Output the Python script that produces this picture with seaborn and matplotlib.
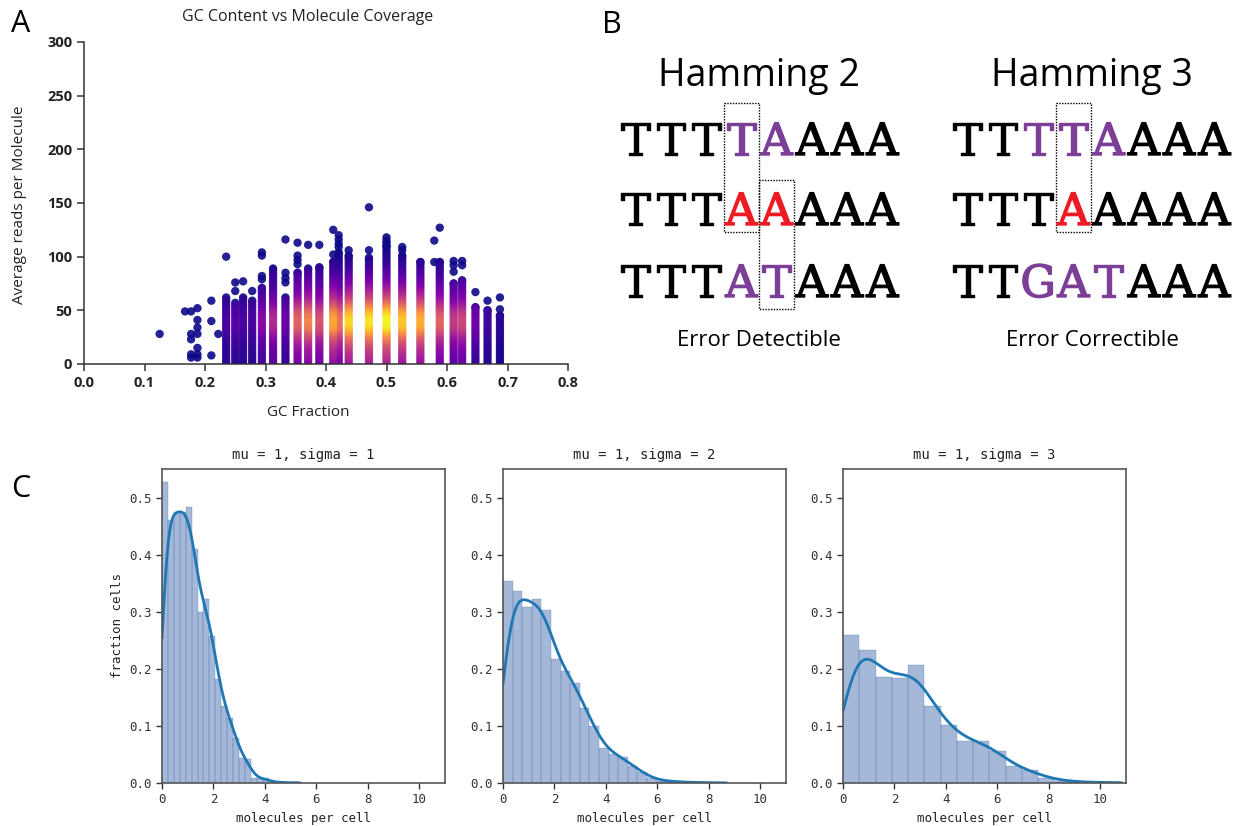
import numpy as np
import pandas as pd
import matplotlib
matplotlib.use('Agg')
import matplotlib.pyplot as plt
import matplotlib.patheffects as pe
from matplotlib.patches import Rectangle
import seaborn as sns

# ---------------- panel A: GC content vs molecule coverage ----------------
# dense columns: GC fraction, top of the dense stack, colour peak (density)
gc_cols = [0.235, 0.25, 0.263, 0.278, 0.294, 0.3125, 0.333, 0.353, 0.3705, 0.389,
           0.412, 0.421, 0.4375, 0.471, 0.5, 0.526, 0.556, 0.588, 0.611, 0.625,
           0.647, 0.667, 0.6875]
col_top = [62, 57, 62, 59, 71, 89, 62, 85, 89, 90,
           95, 104, 101, 99, 110, 101, 95, 95, 75, 78,
           53, 50, 45]
col_peak = [0.12, 0.15, 0.12, 0.12, 0.28, 0.4, 0.2, 0.6, 0.7, 0.55,
            0.8, 0.65, 0.92, 0.95, 1.0, 0.88, 0.82, 0.6, 0.45, 0.5,
            0.22, 0.1, 0.05]
# relative density along the reads axis (same shape in every column)
y_levels = [0, 2.5, 5, 7.5, 10, 12.5, 15, 17.5, 20, 22.5, 25, 27.5, 30, 32.5,
            35, 37.5, 40, 42.5, 45, 47.5, 50, 52.5, 55, 57.5, 60, 62.5, 65, 67.5,
            70, 72.5, 75, 77.5, 80, 82.5, 85, 87.5, 90, 92.5, 95, 97.5, 100,
            102.5, 105, 107.5, 110]
level_weight = [0.35, 0.37, 0.4, 0.42, 0.45, 0.47, 0.5, 0.54, 0.58, 0.63, 0.68,
                0.75, 0.82, 0.89, 0.95, 0.98, 1.0, 0.97, 0.93, 0.87, 0.8, 0.72,
                0.65, 0.58, 0.52, 0.47, 0.42, 0.38, 0.34, 0.3, 0.27, 0.23, 0.2,
                0.17, 0.14, 0.11, 0.09, 0.07, 0.05, 0.04, 0.03, 0.02, 0.01,
                0.005, 0.0]
# sparse points outside the dense stacks
out_gc = [0.125, 0.167, 0.177, 0.177, 0.177, 0.177, 0.177,
          0.1875, 0.1875, 0.1875, 0.1875, 0.1875, 0.1875, 0.1875,
          0.2105, 0.2105, 0.2105, 0.222, 0.235, 0.25, 0.25, 0.263, 0.278,
          0.294, 0.294, 0.294, 0.294, 0.333, 0.333, 0.333, 0.333,
          0.353, 0.353, 0.353, 0.353, 0.3705, 0.389, 0.412, 0.412,
          0.421, 0.421, 0.421, 0.421, 0.4375, 0.471, 0.471, 0.5, 0.5, 0.5,
          0.526, 0.526, 0.579, 0.579, 0.588, 0.611, 0.611, 0.611, 0.625, 0.625,
          0.647, 0.667, 0.6875, 0.6875]
out_reads = [28, 49, 49, 28, 23, 9, 6,
             52, 41, 34, 28, 15, 9, 6,
             59, 40, 8, 28, 100, 76, 68, 77, 68,
             104, 101, 82, 79, 116, 85, 80, 76,
             113, 101, 97, 93, 111, 111, 125, 102,
             120, 116, 112, 109, 106, 146, 106, 118, 115, 113,
             109, 106, 115, 95, 127, 96, 92, 86, 96, 92,
             67, 59, 62, 51]

# ---------------- panel C: molecules per cell ----------------
sigmas = [1, 2, 3]
bin_widths = [0.23, 0.373, 0.632]
hist_s1 = [0.527, 0.461, 0.475, 0.475, 0.484, 0.409, 0.300, 0.322, 0.257, 0.182,
           0.134, 0.113, 0.078, 0.044, 0.042, 0.008, 0.008, 0.008, 0.002, 0.001,
           0.001, 0.0, 0.001]
hist_s2 = [0.353, 0.336, 0.309, 0.323, 0.303, 0.218, 0.196, 0.175, 0.132, 0.099,
           0.061, 0.051, 0.045, 0.030, 0.019, 0.008, 0.004, 0.003, 0.002, 0.001,
           0.001, 0.0005, 0.0005]
hist_s3 = [0.259, 0.233, 0.185, 0.184, 0.206, 0.134, 0.101, 0.074, 0.073, 0.056,
           0.029, 0.022, 0.009, 0.004, 0.002, 0.001, 0.001]

# ---------------- panel B: hamming distance sequences ----------------
h2_rows = ['TTTTAAAA', 'TTTAAAAA', 'TTTATAAA']
h2_marks = ['...pp...', '...rr...', '...pp...']
h3_rows = ['TTTTAAAA', 'TTTAAAAA', 'TTGATAAA']
h3_marks = ['..ppp...', '...r....', '..ppp...']

sns.set_theme(style='ticks')
plt.rcParams['font.family'] = ['Open Sans', 'DejaVu Sans']

W, H = 1243, 826
fig = plt.figure(figsize=(W / 100, H / 100), dpi=100)


def fx(px):
    return px / W


def fy(py):
    return 1 - py / H


# panel A
axA = fig.add_axes([fx(84), fy(364), fx(568 - 84), (364 - 42) / H])
rows = []
for gc, top, peak in zip(gc_cols, col_top, col_peak):
    for lv, w in zip(y_levels, level_weight):
        if lv <= top:
            rows.append((gc, lv, peak * w))
    rows.append((gc, top, 0.0))
for gc, r in zip(out_gc, out_reads):
    rows.append((gc, r, 0.0))
dfA = pd.DataFrame(rows, columns=['gc', 'reads', 'density']).sort_values('density')
sns.scatterplot(data=dfA, x='gc', y='reads', hue='density', palette='plasma',
                hue_norm=(0, 1), s=36, linewidth=0, alpha=0.9, legend=False, ax=axA)
axA.set_xlim(0, 0.8)
axA.set_ylim(0, 300)
axA.set_xticks(np.arange(0, 0.81, 0.1))
axA.set_xticklabels(['%.1f' % v for v in np.arange(0, 0.81, 0.1)])
axA.set_yticks(range(0, 301, 50))
axA.set_xlabel('')
axA.set_ylabel('')
sns.despine(ax=axA)
for s in ['left', 'bottom']:
    axA.spines[s].set_color('#333333')
    axA.spines[s].set_linewidth(1.1)
axA.tick_params(direction='out', length=5, width=1.1, colors='#333333',
                labelsize=10.5, labelcolor='#222222')
for lab in axA.get_xticklabels() + axA.get_yticklabels():
    lab.set_fontweight('bold')
fig.text(fx(308), fy(17), 'GC Content vs Molecule Coverage', ha='center',
         va='center', fontsize=11.5, color='#222222')
fig.text(fx(308), fy(412), 'GC Fraction', ha='center', va='center',
         fontsize=11, color='#222222')
fig.text(fx(20), fy(205), 'Average reads per Molecule', ha='center',
         va='center', rotation=90, fontsize=11, color='#222222')

# panel labels
fig.text(fx(11), fy(32), 'A', fontsize=22, color='black')
fig.text(fx(602), fy(33), 'B', fontsize=22, color='black')
fig.text(fx(11), fy(497), 'C', fontsize=22, color='black')

# panel B drawn in pixel coordinates
axB = fig.add_axes([0, 0, 1, 1], facecolor='none')
axB.set_xlim(0, W)
axB.set_ylim(H, 0)
axB.axis('off')
mark_colors = {'.': '#000000', 'p': '#7b3f98', 'r': '#ed1c24'}
pitch = 35.25
baselines = [155, 225, 297]
for x0, seqs, marks, title, caption, cx in [
        (618, h2_rows, h2_marks, 'Hamming 2', 'Error Detectible', 759),
        (950, h3_rows, h3_marks, 'Hamming 3', 'Error Correctible', 1092)]:
    axB.text(cx, 86, title, ha='center', va='baseline', fontsize=27, color='black')
    axB.text(cx, 346, caption, ha='center', va='baseline', fontsize=16, color='black')
    for seq, mk, yb in zip(seqs, marks, baselines):
        for i, (ch, m) in enumerate(zip(seq, mk)):
            c = mark_colors[m]
            axB.text(x0 + pitch * (i + 0.5), yb, ch, ha='center', va='baseline',
                     fontsize=32, family='DejaVu Serif', color=c,
                     path_effects=[pe.withStroke(linewidth=1.0, foreground=c)])
box_kw = dict(fill=False, ls=(0, (1, 1)), lw=1.0, ec='black')
axB.add_patch(Rectangle((618 + 3 * pitch, 103), pitch, 129, **box_kw))
axB.add_patch(Rectangle((618 + 4 * pitch, 180), pitch, 129, **box_kw))
axB.add_patch(Rectangle((950 + 3 * pitch, 103), pitch, 129, **box_kw))

# panel C
mono = 'DejaVu Sans Mono'
lefts = [162, 503, 843]
for k, (sig, bw, heights, left) in enumerate(zip(sigmas, bin_widths,
                                                 [hist_s1, hist_s2, hist_s3], lefts)):
    ax = fig.add_axes([fx(left), fy(783), 283 / W, (783 - 469) / H])
    n = len(heights)
    centers = np.arange(n) * bw + bw / 2
    sns.histplot(x=centers, weights=heights, binwidth=bw, binrange=(0, n * bw),
                 color='#4C72B0', alpha=0.5, edgecolor='#4C72B0', linewidth=0.2,
                 ax=ax)
    sns.kdeplot(x=centers, weights=heights, clip=(0, None), bw_adjust=0.45,
                cut=0.5, color='#1f77b4', linewidth=2, ax=ax)
    ax.set_xlim(0, 11)
    ax.set_ylim(0, 0.55)
    ax.set_xticks([0, 2, 4, 6, 8, 10])
    ax.set_yticks([0.0, 0.1, 0.2, 0.3, 0.4, 0.5])
    ax.set_yticklabels(['0.0', '0.1', '0.2', '0.3', '0.4', '0.5'])
    for sp in ax.spines.values():
        sp.set_color('#555555')
        sp.set_linewidth(1.2)
    ax.tick_params(direction='out', length=4, width=1, colors='#333333',
                   labelsize=9)
    for lab in ax.get_xticklabels() + ax.get_yticklabels():
        lab.set_family(mono)
    ax.set_title('mu = 1, sigma = %d' % sig, family=mono, fontsize=10,
                 color='#222222', pad=7)
    ax.set_xlabel('molecules per cell', family=mono, fontsize=9, color='#222222')
    ax.set_ylabel('fraction cells' if k == 0 else '', family=mono, fontsize=9,
                  color='#222222')

fig.savefig('out.png', dpi=100)
